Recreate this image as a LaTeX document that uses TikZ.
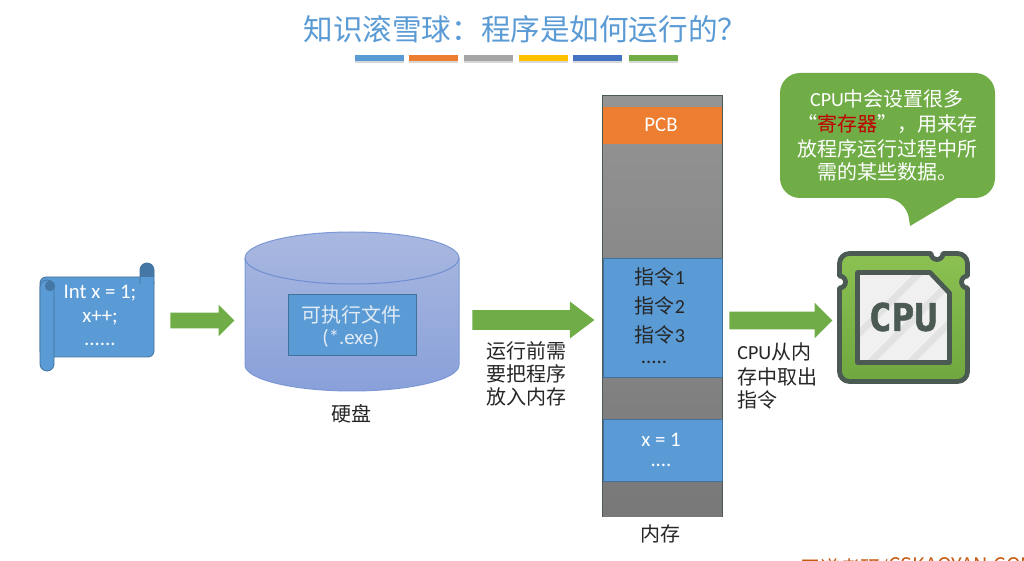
\documentclass[tikz,border=0pt]{standalone}
\usepackage{fontspec}
\setmainfont{Carlito}
\newfontfamily\cjk{Noto Sans CJK SC}
\newfontfamily\cpufont[BoldFeatures={FakeBold=1.5}]{DejaVu Sans Mono}
\usetikzlibrary{calc,shapes.arrows,shadows}
\definecolor{bluea}{HTML}{5B9BD5}
\definecolor{blueb}{HTML}{41719C}
\definecolor{orangea}{HTML}{ED7D31}
\definecolor{graya}{HTML}{A5A5A5}
\definecolor{yellowa}{HTML}{FFC000}
\definecolor{bluec}{HTML}{4472C4}
\definecolor{greena}{HTML}{70AD47}
\definecolor{chipdark}{HTML}{4B5B54}
\definecolor{txtdark}{HTML}{262626}
\definecolor{disktop}{HTML}{A9B8E0}
\definecolor{diskbot}{HTML}{89A0D9}
\definecolor{diskline}{HTML}{7C98D6}
\definecolor{diskedge}{HTML}{6F8FD3}
\definecolor{exetxt}{HTML}{E1EBF6}
\definecolor{memtop}{HTML}{949494}
\definecolor{membot}{HTML}{787878}
\definecolor{redtxt}{HTML}{C00000}
\definecolor{chiptop}{HTML}{8CC152}
\definecolor{chipbot}{HTML}{6FA83F}
\definecolor{chipface}{HTML}{F0F0F0}
\definecolor{chipstripe}{HTML}{E2E2E2}
\definecolor{brandc}{HTML}{C55A11}
\begin{document}
\begin{tikzpicture}[x=0.5pt,y=-0.5pt]
                      \tikzstyle{bar}=[inner sep=0pt,minimum height=3pt,drop shadow={shadow xshift=0pt,shadow yshift=-1pt,opacity=.3}]
                      \tikzstyle{greenarrow}=[single arrow,anchor=tail,fill=greena,draw=none,inner sep=0pt,minimum width=1pt,shape border rotate=0]
                      \tikzstyle{lbl}=[inner sep=0pt,text=txtdark,font=\cjk\fontsize{10}{11}\selectfont]
                      \tikzstyle{whitelbl}=[lbl,text=white]
                      \tikzstyle{latin}=[inner sep=0pt,font=\fontsize{10.4}{11}\selectfont]
                      \tikzstyle{block}=[inner sep=0pt,minimum width=59.5pt,fill=bluea,draw=blueb,line width=.4pt]
                      \clip (0,0) rectangle (1024,561);
                      \fill[white] (0,0) rectangle (1024,561);
                      \node[inner sep=0pt,anchor=west,text=bluea,font=\cjk\fontsize{14.8}{16}\selectfont] (title) at (303,29) {知识滚雪球：程序是如何运行的？};
                      \foreach \name/\col/\xa in {ba/bluea/379.5,bb/orangea/433,bc/graya/488.5,bd/yellowa/543.5,be/bluec/597.5,bf/greena/653.5}
                        \node[bar,fill=\col,minimum width=24.5pt] (\name) at (\xa,58) {};
                      \draw[fill=bluea,draw=blueb,line width=.4pt,rounded corners=3pt] (40,300) -- (40,277) -- (154,277) -- (154,357) -- (40,357) -- cycle;
                      \draw[fill=bluea,draw=blueb,line width=.4pt,rounded corners=3.5pt] (40,280) rectangle (54,371);
                      \fill[blueb!85!bluea] (50,286) circle (2.6pt);
                      \draw[fill=bluea,draw=blueb,line width=.4pt] (140,284) -- (140,270) arc[start angle=180,end angle=0,radius=3.5pt] -- (154,284);
                      \fill[blueb!85!bluea] (140,277) -- (140,270) arc[start angle=180,end angle=0,radius=3.5pt] -- (154,277) -- cycle;
                      \node[latin,text=white] (srca) at (100,293) {Int x = 1;};
                      \node[latin,text=white] (srcb) at (100,318) {x++;};
                      \node[latin,text=white] (srcc) at (100,344) {......};
                      \node[greenarrow,minimum height=32pt,inner ysep=3.75pt,single arrow head extend=4pt] (arrowa) at (170,320.5) {};
                      \path[top color=disktop,bottom color=diskbot,draw=diskline,line width=.5pt] (245,258) -- (245,365) arc[start angle=180,end angle=360,x radius=53.5pt,y radius=13pt] -- (459,258) arc[start angle=0,end angle=180,x radius=53.5pt,y radius=13pt] -- cycle;
                      \draw[draw=diskedge,line width=.5pt] (245,258) arc[start angle=180,end angle=360,x radius=53.5pt,y radius=13pt];
                      \node[block,minimum width=64pt,minimum height=30.5pt] (exe) at (352,324.5) {};
                      \node[lbl,text=exetxt] (exea) at (351,315) {可执行文件};
                      \node[latin,text=exetxt] (exeb) at (351,338) {(*.exe)};
                      \node[lbl] (disk) at (351,414) {硬盘};
                      \node[greenarrow,minimum height=61pt,inner ysep=4.75pt,single arrow head extend=4.25pt,single arrow tip angle=74] (arrowb) at (472,320) {};
                      \node[lbl,anchor=west] (texta) at (486,351) {运行前需};
                      \node[lbl,anchor=west] (textb) at (486,374) {要把程序};
                      \node[lbl,anchor=west] (textc) at (486,397) {放入内存};
                      \node[inner sep=0pt,minimum width=59.5pt,minimum height=210.5pt,top color=memtop,bottom color=membot,draw=none] (mem) at (662.5,306.5) {};
                      \draw[chipdark,line width=.6pt] (mem.south west) -- (mem.north west) -- (mem.north east) -- (mem.south east);
                      \node[inner sep=0pt,minimum width=59.5pt,minimum height=18.5pt,fill=orangea] (pcb) at (662.5,125.5) {};
                      \node[latin,text=white] (pcbtxt) at (661,125) {PCB};
                      \node[block,minimum height=59.5pt] (code) at (662.5,317.5) {};
                      \node[block,minimum height=31pt] (data) at (662.5,450) {};
                      \node[lbl] (insa) at (660,277) {指令{\rmfamily 1}};
                      \node[lbl] (insb) at (660,306) {指令{\rmfamily 2}};
                      \node[lbl] (insc) at (660,335) {指令{\rmfamily 3}};
                      \node[latin,text=txtdark] (insd) at (654,362) {.....};
                      \node[latin,text=white] (dataa) at (661,440) {x = 1};
                      \node[latin,text=white] (datab) at (661,465) {....};
                      \node[lbl] (memtxt) at (660,534) {内存};
                      \node[greenarrow,minimum height=51.5pt,inner ysep=4.25pt,single arrow head extend=4.5pt] (arrowc) at (729,320.5) {};
                      \node[lbl,anchor=west] (fetcha) at (737,352) {{\rmfamily CPU}从内};
                      \node[lbl,anchor=west] (fetchb) at (737,377) {存中取出};
                      \node[lbl,anchor=west] (fetchc) at (737,400) {指令};
                      \fill[greena,rounded corners=10pt] (906,198) [sharp corners] -- (910,226) -- (957,198) [rounded corners=10pt] -- (995,198) -- (995,73) -- (780,73) -- (780,198) -- cycle;
                      \node[whitelbl] (notea) at (887,99) {{\rmfamily CPU}中会设置很多};
                      \node[whitelbl] (noteb) at (887,124) {“{\color{redtxt}寄存器}”，用来存};
                      \node[whitelbl] (notec) at (887,149) {放程序运行过程中所};
                      \node[whitelbl] (noted) at (887,172) {需的某些数据。};
                      \draw[top color=chiptop,bottom color=chipbot,draw=chipdark,line width=2.4pt,line join=round] (849,253.5) -- (931,253.5) arc[start angle=180,end angle=360,radius=3pt] -- (957.5,253.5) arc[start angle=90,end angle=0,radius=5pt] -- (967.5,276) arc[start angle=90,end angle=270,radius=3pt] -- (967.5,371.5) arc[start angle=0,end angle=-90,radius=5pt] -- (849.5,381.5) arc[start angle=-90,end angle=-180,radius=5pt] -- (839.5,288) arc[start angle=270,end angle=450,radius=3pt] -- (839.5,263.5) arc[start angle=180,end angle=90,radius=5pt] -- cycle;
                      \fill[chipface] (857.5,272.5) -- (930,272.5) -- (949.5,293) -- (949.5,362.5) -- (857.5,362.5) -- cycle;
                      \begin{scope}
                        \clip (857.5,272.5) -- (930,272.5) -- (949.5,293) -- (949.5,362.5) -- (857.5,362.5) -- cycle;
                        \foreach \xa in {860,900,940,980}
                          \draw[chipstripe,line width=3.5pt] (\xa-30,362.5) -- (\xa+60,272.5);
                      \end{scope}
                      \draw[draw=chipdark,line width=2.4pt,line join=round] (857.5,272.5) -- (930,272.5) -- (949.5,293) -- (949.5,362.5) -- (857.5,362.5) -- cycle;
                      \node[inner sep=0pt,text=chipdark,font=\cpufont\bfseries\fontsize{19}{22}\selectfont] (cpu) at (903,317) {CPU};
                      \node[inner sep=0pt,anchor=west,text=brandc,font=\cjk\fontsize{10}{11}\selectfont] (brand) at (800,568.5) {王道考研/\raisebox{1.2pt}{CSKAOYAN.COM}};
\end{tikzpicture}
\end{document}
